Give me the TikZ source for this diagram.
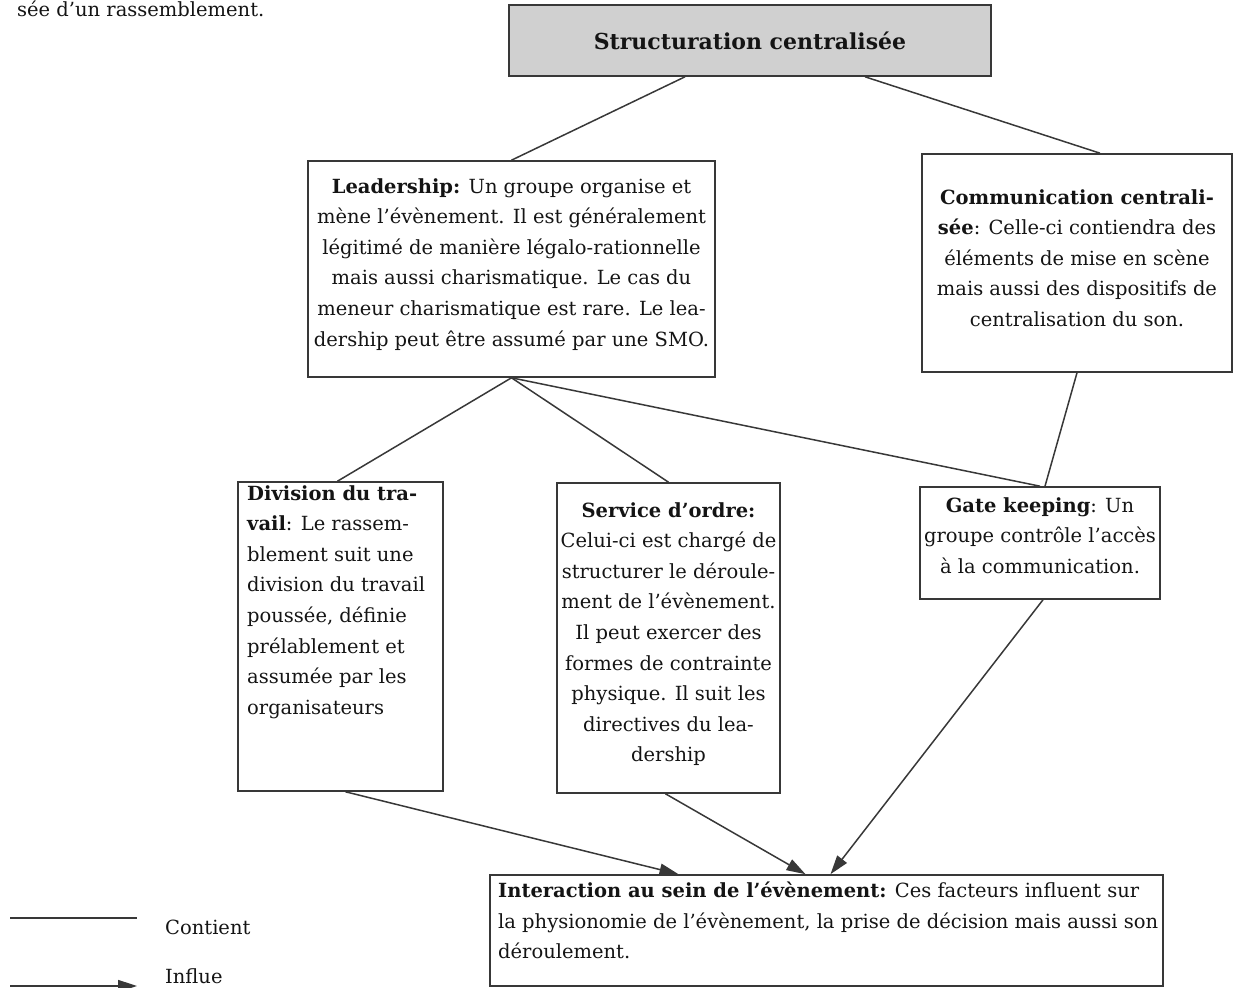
\documentclass[tikz,border=0pt]{standalone}
\usepackage{fontspec}
\setmainfont{DejaVu Serif}
\usetikzlibrary{arrows.meta,calc}
\definecolor{boxgray}{HTML}{D0D0D0}
\definecolor{linegray}{HTML}{383838}
\definecolor{txt}{HTML}{141414}
\begin{document}
\begin{tikzpicture}[x=1pt,y=1pt,
  every node/.style={text=txt,font=\fontsize{19.5}{30.6}\selectfont},
  boxnode/.style={draw=linegray,line width=1.6pt,rectangle,inner sep=0pt},
  txtnode/.style={inner sep=0pt},
  contain/.style={draw=linegray,line width=1.5pt},
  influe/.style={draw=linegray,line width=1.5pt,-{Triangle[length=19pt,width=12pt]}}]
\useasboundingbox (0,0) rectangle (1235,988);
% boxes
\node[boxnode,fill=boxgray,minimum width=482pt,minimum height=71pt,font=\fontsize{22}{26}\selectfont] (title) at (750,947.5) {\textbf{Structuration centralisée}};
\node[boxnode,minimum width=407pt,minimum height=216pt] (lead) at (511.5,719) {};
\node[boxnode,minimum width=310pt,minimum height=218pt] (comm) at (1077,725) {};
\node[boxnode,minimum width=205pt,minimum height=309pt] (div) at (340.5,351.5) {};
\node[boxnode,minimum width=223pt,minimum height=310pt] (serv) at (668.5,350) {};
\node[boxnode,minimum width=240pt,minimum height=112pt] (gate) at (1040,445) {};
\node[boxnode,minimum width=673pt,minimum height=111pt] (inter) at (826.5,57.5) {};
% texts
\node[txtnode,align=center,anchor=north] (leadtxt) at (511.5,810) {\textbf{Leadership:} Un groupe organise et\\mène l'évènement. Il est généralement\\légitimé de manière légalo-rationnelle\\mais aussi charismatique. Le cas du\\meneur charismatique est rare. Le lea-\\dership peut être assumé par une SMO.};
\node[txtnode,align=center,anchor=north] (commtxt) at (1077,799) {\textbf{Communication centrali-}\\\textbf{sée}: Celle-ci contiendra des\\éléments de mise en scène\\mais aussi des dispositifs de\\centralisation du son.};
\node[txtnode,align=left,anchor=north west] (divtxt) at (247,503) {\textbf{Division du tra-}\\\textbf{vail}: Le rassem-\\blement suit une\\division du travail\\poussée, définie\\prélablement et\\assumée par les\\organisateurs};
\node[txtnode,align=center,anchor=north] (servtxt) at (668.5,486) {\textbf{Service d’ordre:}\\Celui-ci est chargé de\\structurer le déroule-\\ment de l'évènement.\\Il peut exercer des\\formes de contrainte\\physique. Il suit les\\directives du lea-\\dership};
\node[txtnode,align=center,anchor=north] (gatetxt) at (1040,491) {\textbf{Gate keeping}: Un\\groupe contrôle l'accès\\à la communication.};
\node[txtnode,align=left,anchor=north west] (intertxt) at (498,106) {\textbf{Interaction au sein de l’évènement:} Ces facteurs influent sur\\la physionomie de l'évènement, la prise de décision mais aussi son\\déroulement.};
\node[txtnode,anchor=base west] (toptxt) at (17,971) {sée d’un rassemblement.};
% contain lines
\draw[contain] ([xshift=-65pt]title.south) -- (lead.north);
\draw[contain] ([xshift=115pt]title.south) -- ([xshift=23pt]comm.north);
\draw[contain] (lead.south) -- ([xshift=-3pt]div.north);
\draw[contain] (lead.south) -- (serv.north);
\draw[contain] (lead.south) -- (gate.north);
\draw[contain] (comm.south) -- ([xshift=5pt]gate.north);
% influence arrows
\draw[influe] ([xshift=5pt]div.south) -- ([xshift=-148pt]inter.north);
\draw[influe] ([xshift=-3pt]serv.south) -- ([xshift=-21pt]inter.north);
\draw[influe] ([xshift=3pt]gate.south) -- ([xshift=4pt]inter.north);
% legend
\coordinate (l1a) at (10,70);
\coordinate (l1b) at (137,70);
\coordinate (l2a) at (10,2);
\coordinate (l2b) at (137,2);
\draw[contain] (l1a) -- (l1b);
\draw[influe] (l2a) -- (l2b);
\node[txtnode,anchor=base west] (contient) at (165,53) {Contient};
\node[txtnode,anchor=base west] (influetxt) at (165,4) {Influe};
\end{tikzpicture}
\end{document}
